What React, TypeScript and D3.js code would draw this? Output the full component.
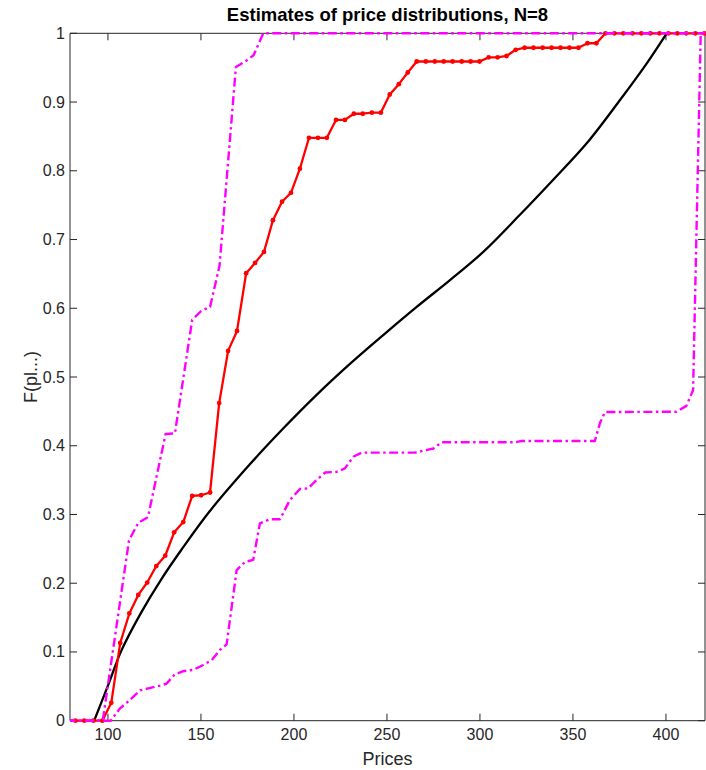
import React from "react";
import * as d3 from "d3";

// ---- data ----
const gridPrices = [
  77.7, 82.5, 87.3, 92.2, 97.0, 101.8, 106.6, 111.5, 116.3, 121.1, 126.0, 130.8,
  135.6, 140.5, 145.3, 150.1, 154.9, 159.8, 164.6, 169.4, 174.3, 179.1, 183.9, 188.7,
  193.6, 198.4, 203.2, 208.1, 212.9, 217.7, 222.6, 227.4, 232.2, 237.0, 241.9, 246.7,
  251.5, 256.4, 261.2, 266.0, 270.9, 275.7, 280.5, 285.3, 290.2, 295.0, 299.8, 304.7,
  309.5, 314.3, 319.2, 324.0, 328.8, 333.7, 338.5, 343.3, 348.1, 353.0, 357.8, 362.6,
  367.5, 372.3, 377.1, 382.0, 386.8, 391.6, 396.5, 401.3, 406.1, 410.9, 415.8, 420.6,
];
const empiricalF = [
  0, 0, 0, 0, 0, 0.026, 0.113, 0.156, 0.183, 0.201, 0.225, 0.24,
  0.274, 0.289, 0.327, 0.328, 0.332, 0.462, 0.538, 0.567, 0.651, 0.666, 0.682, 0.728,
  0.755, 0.768, 0.803, 0.848, 0.848, 0.848, 0.874, 0.874, 0.883, 0.883, 0.8845, 0.8845,
  0.911, 0.926, 0.943, 0.959, 0.959, 0.959, 0.959, 0.959, 0.959, 0.959, 0.959, 0.965,
  0.965, 0.967, 0.976, 0.979, 0.979, 0.979, 0.979, 0.979, 0.979, 0.979, 0.9855, 0.9855,
  1, 1, 1, 1, 1, 1, 1, 1, 1, 1, 1, 1,
];

const trueX = [92.6, 100, 107.4, 118, 128.5, 139.6, 154.8, 176.3, 194.2, 212.2, 230.1, 248, 266, 283.9, 301.8, 321.5, 339.4, 357.4, 375.3, 389.6, 400.4];
const trueF = [0, 0.051, 0.103, 0.158, 0.205, 0.249, 0.305, 0.373, 0.425, 0.474, 0.519, 0.561, 0.602, 0.641, 0.682, 0.736, 0.787, 0.84, 0.903, 0.956, 1.0];

const upperX = [77.7, 97.2, 111.3, 116.3, 121.5, 131, 136, 145.3, 150.1, 154.9, 160, 168.8, 174.3, 178.3, 183.5, 421];
const upperF = [0, 0, 0.262, 0.288, 0.296, 0.417, 0.418, 0.583, 0.596, 0.602, 0.662, 0.951, 0.96, 0.968, 1.0, 1.0];

const lowerX = [77.7, 101.5, 106.5, 110.9, 117.2, 121.7, 128, 131.5, 136, 140.5, 145.9, 151.2, 155.8, 160.2, 163.8, 169.2, 173.7, 178.1, 181.7, 187.1, 192.5, 197.8, 203.2, 207.7, 211.3, 216.7, 222.9, 227.4, 231.9, 236.4, 265.1, 275, 279.4, 318.8, 322.4, 361.8, 364.5, 367.2, 405.7, 411, 414.6, 418.7, 421];
const lowerF = [0, 0, 0.018, 0.028, 0.044, 0.047, 0.051, 0.054, 0.0675, 0.072, 0.074, 0.081, 0.088, 0.103, 0.111, 0.219, 0.231, 0.234, 0.287, 0.293, 0.293, 0.321, 0.337, 0.338, 0.348, 0.361, 0.362, 0.367, 0.384, 0.39, 0.39, 0.396, 0.405, 0.405, 0.407, 0.407, 0.433, 0.449, 0.4495, 0.458, 0.481, 1.0, 1.0];

const xTicks = [100, 150, 200, 250, 300, 350, 400];
const yTicks = [0, 0.1, 0.2, 0.3, 0.4, 0.5, 0.6, 0.7, 0.8, 0.9, 1];
const yTickLabels = ["0", "0.1", "0.2", "0.3", "0.4", "0.5", "0.6", "0.7", "0.8", "0.9", "1"];

const titleText = "Estimates of price distributions, N=8";
const xLabel = "Prices";
const yLabel = "F(pl...)";

export default function App() {
  const W = 706, H = 770;
  const L = 70, R = 705, T = 33.3, B = 720.7;
  const x = d3.scaleLinear().domain([79.6, 421]).range([L, R]);
  const y = d3.scaleLinear().domain([0, 1]).range([B, T]);
  const font = "'Liberation Sans', Arial, Helvetica, sans-serif";
  const axisColor = "#262626";
  const tickLen = 7;

  const zip = (xs: number[], ys: number[]) => xs.map((v, i) => [v, ys[i]] as [number, number]);
  const lin = d3.line<[number, number]>().x(d => x(d[0])).y(d => y(d[1]));
  const smooth = d3.line<[number, number]>().x(d => x(d[0])).y(d => y(d[1])).curve(d3.curveCatmullRom.alpha(0.5));

  const redPts = zip(gridPrices, empiricalF);
  const dash = "9,3.5,2.5,3.5";

  return (
    <svg width={W} height={H} style={{ position: "absolute", left: 0, top: 0, background: "#fff" }} fontFamily={font}>
      <defs>
        <clipPath id="plotclip">
          <rect x={L} y={T - 3} width={R - L + 2} height={B - T + 6} />
        </clipPath>
      </defs>
      <rect x={0} y={0} width={W} height={H} fill="#fff" />

      {/* axes box */}
      <g stroke={axisColor} strokeWidth={1} fill="none">
        <line x1={L} y1={B} x2={R} y2={B} />
        <line x1={L} y1={T} x2={R} y2={T} />
        <line x1={L} y1={T} x2={L} y2={B} />
        <line x1={R} y1={T} x2={R} y2={B} />
        {xTicks.map(t => (
          <g key={"xt" + t}>
            <line x1={x(t)} y1={B} x2={x(t)} y2={B - tickLen} />
            <line x1={x(t)} y1={T} x2={x(t)} y2={T + tickLen} />
          </g>
        ))}
        {yTicks.map(t => (
          <g key={"yt" + t}>
            <line x1={L} y1={y(t)} x2={L + tickLen} y2={y(t)} />
            <line x1={R} y1={y(t)} x2={R - tickLen} y2={y(t)} />
          </g>
        ))}
      </g>

      {/* tick labels */}
      <g fill={axisColor} fontSize={16}>
        {xTicks.map(t => (
          <text key={"xl" + t} x={x(t)} y={740} textAnchor="middle">{t}</text>
        ))}
        {yTicks.map((t, i) => (
          <text key={"yl" + t} x={65} y={y(t) + 5.5} textAnchor="end">{yTickLabels[i]}</text>
        ))}
      </g>

      <g clipPath="url(#plotclip)" fill="none" strokeLinejoin="round">
        <path d={smooth(zip(trueX, trueF)) || ""} stroke="#000" strokeWidth={2.3} />
        <path d={lin(redPts) || ""} stroke="#ff0000" strokeWidth={2.3} />
        {redPts.map((p, i) => (
          <circle key={"m" + i} cx={x(p[0])} cy={y(p[1])} r={2.4} fill="#ff0000" stroke="none" />
        ))}
        <path d={lin(zip(upperX, upperF)) || ""} stroke="#ff00ff" strokeWidth={2.4} strokeDasharray={dash} />
        <path d={lin(zip(lowerX, lowerF)) || ""} stroke="#ff00ff" strokeWidth={2.4} strokeDasharray={dash} />
      </g>

      <text x={(L + R) / 2} y={20.7} textAnchor="middle" fontWeight="bold" fontSize={18.5} fill="#000">{titleText}</text>
      <text x={(L + R) / 2} y={765} textAnchor="middle" fontSize={18} fill={axisColor}>{xLabel}</text>
      <text transform={`translate(37,${(T + B) / 2}) rotate(-90)`} textAnchor="middle" fontSize={18} fill={axisColor}>{yLabel}</text>
    </svg>
  );
}
